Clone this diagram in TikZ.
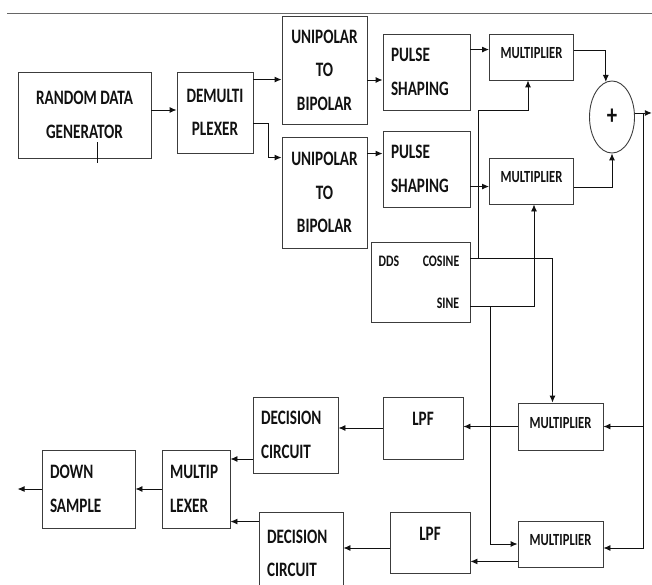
\documentclass[tikz,border=0pt]{standalone}
\usepackage{fontspec}
\usetikzlibrary{arrows.meta,shapes.geometric}
\newfontfamily\blockfont{Carlito}[FakeStretch=0.74]

\definecolor{blockInk}{HTML}{111111}
\definecolor{blockEdge}{HTML}{3C3C3C}
\definecolor{ruleGray}{HTML}{666666}

\tikzset{
  blockbox/.style={draw=blockEdge,line width=0.9pt,inner sep=0pt,align=center,
    font=\blockfont\bfseries\fontsize{20.5}{33.5}\selectfont},
  leftbox/.style={blockbox,align=left,inner xsep=8pt},
  multbox/.style={blockbox,minimum width=84pt,minimum height=46pt,text depth=8pt,
    font=\blockfont\bfseries\fontsize{17}{20}\selectfont},
  portlabel/.style={inner sep=0pt,font=\blockfont\bfseries\fontsize{16}{18}\selectfont},
  wire/.style={draw=blockInk,line width=0.9pt},
  flow/.style={wire,-{Latex[length=7pt,width=6pt]}}
}

\begin{document}
\begin{tikzpicture}[x=1pt,y=-1pt,text=blockInk]
  \useasboundingbox (0,0) rectangle (652,585);
  \draw[ruleGray,line width=1pt] (7,14) -- (652,14);

  \node[blockbox,minimum width=133pt,minimum height=86pt] (rdg) at (84.5,115) {RANDOM DATA\\GENERATOR};
  \node[blockbox,minimum width=76pt,minimum height=81pt] (demux) at (215,112.5) {DEMULTI\\PLEXER};
  \node[blockbox,minimum width=85pt,minimum height=108pt] (uni1) at (324.5,70) {UNIPOLAR\\TO\\BIPOLAR};
  \node[blockbox,minimum width=85pt,minimum height=111pt] (uni2) at (324.5,192.5) {UNIPOLAR\\TO\\BIPOLAR};
  \node[leftbox,text width=71pt,minimum height=76pt] (ps1) at (426.5,72) {PULSE\\SHAPING};
  \node[leftbox,text width=71pt,minimum height=76pt] (ps2) at (426.5,169) {PULSE\\SHAPING};
  \node[multbox] (mul1) at (531.5,57) {MULTIPLIER};
  \node[multbox] (mul2) at (531.5,181) {MULTIPLIER};
  \node[draw=blockEdge,line width=0.9pt,ellipse,minimum width=45pt,minimum height=72pt,inner sep=0pt,
    font=\blockfont\bfseries\fontsize{28}{28}\selectfont] (sum) at (612,117) {+};

  \node[blockbox,minimum width=99pt,minimum height=80pt] (dds) at (420.5,282) {};
  \node[portlabel] (ddsname) at (389,261) {DDS};
  \node[portlabel] (cosname) at (441,261) {COSINE};
  \node[portlabel] (sinname) at (448,303) {SINE};

  \node[multbox,minimum width=85pt,minimum height=47pt] (mul3) at (560.5,426.5) {MULTIPLIER};
  \node[multbox,minimum width=85pt] (mul4) at (560.5,544) {MULTIPLIER};
  \node[blockbox,minimum width=80pt,minimum height=62pt,text depth=18pt] (lpf1) at (423,428) {LPF};
  \node[blockbox,minimum width=80pt,minimum height=61pt,text depth=17pt] (lpf2) at (430,542.5) {LPF};
  \node[leftbox,text width=69pt,minimum height=76pt] (dec1) at (295.5,435) {DECISION\\CIRCUIT};
  \node[leftbox,text width=68pt,minimum height=83pt] (dec2) at (301,553.5) {DECISION\\CIRCUIT};
  \node[leftbox,text width=52pt,minimum height=78pt] (mux) at (196,489) {MULTIP\\LEXER};
  \node[leftbox,text width=77pt,minimum height=78pt] (ds) at (88.5,489) {DOWN\\SAMPLE};

  \coordinate (cosout) at (dds.east |- 0,258);
  \coordinate (sinout) at (dds.east |- 0,306);
  \coordinate (sumout) at ([xshift=17pt]sum.10);
  \coordinate (bus) at ([xshift=9pt]sum.10);
  \coordinate (dsout) at ([xshift=-24pt]ds.west);

  \draw[wire] ([xshift=12.5pt,yshift=16pt]rdg.south) -- ++(0,21);
  \draw[flow] ([yshift=5pt]rdg.east) -- ([yshift=5pt]rdg.east -| demux.west);
  \draw[flow] ([yshift=-8pt]demux.north east) -- ([yshift=-8pt]demux.north east -| uni1.west);
  \draw[flow] ([yshift=-52pt]demux.north east) -- ++(15,0) |- ([yshift=-21pt]uni2.north west);
  \draw[flow] ([yshift=-10pt]uni1.east) -- ([yshift=-10pt]uni1.east -| ps1.west);
  \draw[flow] ([yshift=-17pt]uni2.north east) -- ([yshift=-17pt]uni2.north east -| ps2.west);
  \draw[flow] ([yshift=-16pt]ps1.north east) -- ([yshift=-16pt]ps1.north east -| mul1.west);
  \draw[flow] ([yshift=-56pt]ps2.north east) -- ([yshift=-56pt]ps2.north east -| mul2.west);
  \draw[flow] ([yshift=7pt]mul1.east) -| (sum.100);
  \draw[flow] ([yshift=-6pt]mul2.east) -| (sum.south);
  \draw[flow] (sum.10) -- (sumout);
  \draw[flow] (bus) |- ([yshift=-4pt]mul4.east);
  \draw[flow] (bus |- mul3.east) -- (mul3.east);
  \draw[flow] (cosout) -| ([xshift=-8pt]mul3.north);
  \draw[flow] ([xshift=8pt]cosout) -- ++(0,-148) -| ([xshift=-3.5pt]mul1.south);
  \draw[flow] (sinout) -| ([xshift=2.5pt]mul2.south);
  \draw[flow] ([xshift=20pt]sinout) |- (mul4.west);
  \draw[flow] (mul3.west) -- (mul3.west -| lpf1.east);
  \draw[flow] ([yshift=6pt]mul4.south west) -- ([yshift=6pt]mul4.south west -| lpf2.east);
  \draw[flow] (lpf1.west) -- (lpf1.west -| dec1.east);
  \draw[flow] ([yshift=-5.5pt]lpf2.west) -- ([yshift=-5.5pt]lpf2.west -| dec2.east);
  \draw[flow] ([yshift=-24pt]dec1.west) -- ([yshift=-24pt]dec1.west -| mux.east);
  \draw[flow] ([yshift=-10pt]dec2.north west) -- ([yshift=-10pt]dec2.north west -| mux.east);
  \draw[flow] (mux) -- (ds);
  \draw[flow] (ds.west) -- (dsout);
\end{tikzpicture}
\end{document}
